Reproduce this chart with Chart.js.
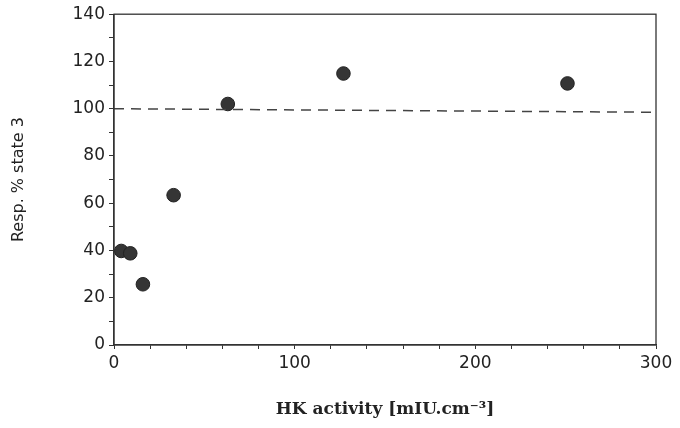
<!DOCTYPE html>
<html>
<head>
<meta charset="utf-8">
<script src="https://cdn.jsdelivr.net/npm/chart.js@4"></script>
<style>
html,body{margin:0;padding:0;background:#fff;}
#wrap{width:680px;height:428px;}
</style>
</head>
<body>
<div id="wrap"><canvas id="c" width="680" height="428"></canvas></div>
<script>
const hkActivity = [4, 9, 16, 33, 63, 127, 251];
const respState3 = [39.8, 38.8, 25.7, 63.4, 102, 114.9, 110.7];
const refLineX = [0, 300];
const refLineY = [100, 98.5];
const xTickLabels = [0, 100, 200, 300];
const yTickLabels = [0, 20, 40, 60, 80, 100, 120, 140];

const framePlugin = {
  id: 'frame',
  afterDatasetsDraw(chart) {
    const a = chart.chartArea, ctx = chart.ctx;
    ctx.save();
    ctx.strokeStyle = '#333';
    ctx.lineWidth = 1.3;
    ctx.strokeRect(a.left, a.top, a.right - a.left, a.bottom - a.top);
    ctx.restore();
  }
};

new Chart(document.getElementById('c'), {
  type: 'scatter',
  data: {
    datasets: [
      {
        type: 'line',
        data: refLineX.map((x, i) => ({x, y: refLineY[i]})),
        borderColor: '#444',
        borderWidth: 1.5,
        borderDash: [10, 7],
        pointRadius: 0,
        fill: false
      },
      {
        data: hkActivity.map((x, i) => ({x, y: respState3[i]})),
        backgroundColor: '#353535',
        borderColor: '#222',
        borderWidth: 1,
        pointRadius: 6.8
      }
    ]
  },
  options: {
    responsive: false,
    animation: false,
    layout: {padding: {top: 14, right: 24, bottom: 0, left: 0}},
    plugins: {legend: {display: false}, tooltip: {enabled: false}},
    scales: {
      x: {
        type: 'linear', min: 0, max: 300,
        afterFit(s) { s.height = 83; },
        border: {color: '#333', width: 1.3},
        grid: {drawOnChartArea: false, tickLength: 4, color: '#333'},
        ticks: {
          stepSize: 20, autoSkip: false, maxRotation: 0,
          color: '#222', padding: 4,
          font: {family: 'DejaVu Sans', size: 17},
          callback: v => xTickLabels.includes(v) ? String(v) : ''
        },
        title: {
          display: true, text: 'HK activity [mIU.cm\u207B\u00B3]',
          color: '#222', padding: {top: 0, bottom: 8},
          font: {family: 'DejaVu Serif', size: 17, weight: 'bold'}
        }
      },
      y: {
        type: 'linear', min: 0, max: 140,
        afterFit(s) { s.width = 114; },
        border: {color: '#333', width: 1.3},
        grid: {drawOnChartArea: false, tickLength: 5, color: '#333'},
        ticks: {
          stepSize: 10, autoSkip: false,
          color: '#222', padding: 4,
          font: {family: 'DejaVu Sans', size: 17},
          callback: v => yTickLabels.includes(v) ? String(v) : ''
        },
        title: {
          display: true, text: 'Resp. % state 3',
          color: '#222', padding: {top: 9, bottom: 0},
          font: {family: 'DejaVu Sans', size: 16}
        }
      }
    }
  },
  plugins: [framePlugin]
});
</script>
</body>
</html>
